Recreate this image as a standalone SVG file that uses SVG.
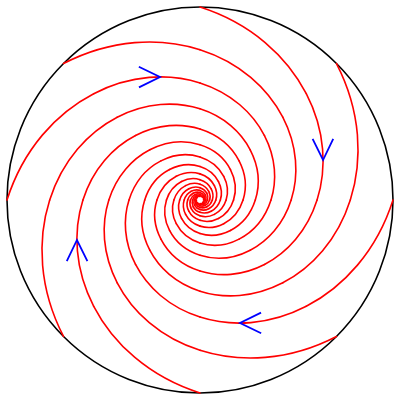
<svg xmlns="http://www.w3.org/2000/svg" xmlns:xlink="http://www.w3.org/1999/xlink" width="400" height="400" viewBox="0 0 400 400">
<style>
.traj{fill:none;stroke:#ff0000;stroke-width:1.6;stroke-linecap:round;vector-effect:non-scaling-stroke}
.arrow{fill:none;stroke:#0000ff;stroke-width:1.8;stroke-linejoin:miter}
.boundary{fill:none;stroke:#000000;stroke-width:1.6}
</style>
<defs>
<path id="seg" class="traj" d="M193,0 C176.708,51.184 143.443,87.069 106.284,106.284"/>
<g id="ring">
<use href="#seg"/>
<use href="#seg" transform="rotate(45)"/>
<use href="#seg" transform="rotate(90)"/>
<use href="#seg" transform="rotate(135)"/>
<use href="#seg" transform="rotate(180)"/>
<use href="#seg" transform="rotate(225)"/>
<use href="#seg" transform="rotate(270)"/>
<use href="#seg" transform="rotate(315)"/>
</g>
</defs>
<rect width="400" height="400" fill="#ffffff"/>
<g id="boundary">
<circle class="boundary" cx="200" cy="200" r="193"/>
</g>
<g id="trajectories" transform="translate(200,200)">
<use href="#ring"/>
<use href="#ring" transform="scale(0.778801)"/>
<use href="#ring" transform="scale(0.606531)"/>
<use href="#ring" transform="scale(0.472367)"/>
<use href="#ring" transform="scale(0.367879)"/>
<use href="#ring" transform="scale(0.286505)"/>
<use href="#ring" transform="scale(0.223130)"/>
<use href="#ring" transform="scale(0.173774)"/>
<use href="#ring" transform="scale(0.135335)"/>
<use href="#ring" transform="scale(0.105399)"/>
<use href="#ring" transform="scale(0.082085)"/>
<use href="#ring" transform="scale(0.063928)"/>
<use href="#ring" transform="scale(0.049787)"/>
<use href="#ring" transform="scale(0.038774)"/>
<use href="#ring" transform="scale(0.030197)"/>
<use href="#ring" transform="scale(0.023518)"/>
</g>
<g id="arrows">
<polyline class="arrow" points="261.04,312.61 239.98,323.04 261.16,333.21"/>
<polyline class="arrow" points="87.39,261.04 76.96,239.98 66.79,261.16"/>
<polyline class="arrow" points="138.96,87.39 160.02,76.96 138.84,66.79"/>
<polyline class="arrow" points="312.61,138.96 323.04,160.02 333.21,138.84"/>
</g>
</svg>
